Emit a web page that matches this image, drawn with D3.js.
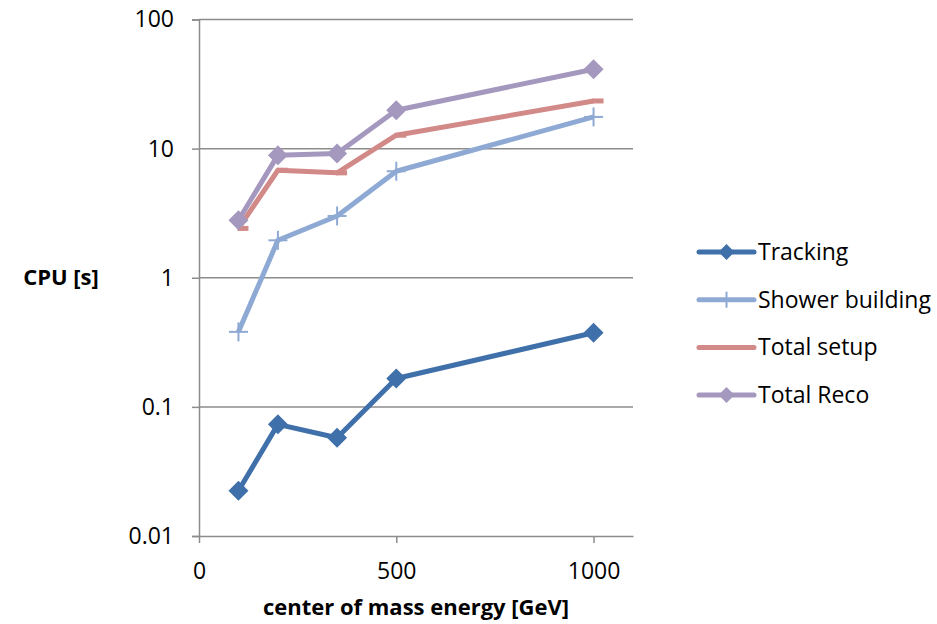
<!DOCTYPE html>
<html>
<head>
<meta charset="utf-8">
<script src="https://cdn.jsdelivr.net/npm/d3@7"></script>
<style>
  body { margin: 0; background: #fff; }
  text { font-family: "Open Sans", sans-serif; fill: #000; }
</style>
</head>
<body>
<div id="chart"></div>
<script>
// values
const energies = [100, 200, 350, 500, 1000];
const tracking = [0.0224, 0.0732, 0.0577, 0.166, 0.375];
const showerBuilding = [0.381, 1.95, 3.01, 6.68, 17.6];
const totalSetup = [2.41, 6.8, 6.49, 12.7, 23.4];
const totalReco = [2.79, 8.9, 9.17, 19.8, 41.2];
const seriesNames = ["Tracking", "Shower building", "Total setup", "Total Reco"];
const xTicks = [0, 500, 1000];
const yTicks = [0.01, 0.1, 1, 10, 100];

var series = [
    {name: seriesNames[0], values: tracking, color: "#4070aa", marker: "diamond"},
    {name: seriesNames[1], values: showerBuilding, color: "#8eaad4", marker: "cross"},
    {name: seriesNames[2], values: totalSetup, color: "#d28a88", marker: "dash"},
    {name: seriesNames[3], values: totalReco, color: "#a598be", marker: "diamond"}
];

var margin = {top: 19.5, right: 304, bottom: 88, left: 199};
var width = 937 - margin.left - margin.right;
const height = 624 - margin.top - margin.bottom;

const root = d3.select("#chart")
    .append("svg")
    .attr("width", 937)
    .attr("height", 624);

const svg = root.append("g")
    .attr("transform", "translate(" + margin.left + "," + margin.top + ")");

var xScale = d3.scaleLinear()
    .domain([0, 1100])
    .range([0, width]);

var yScale = d3.scaleLog()
    .domain([0.01, 100])
    .range([height, 0]);

const gridColor = "#8c8c8c";

// horizontal gridlines
svg.selectAll(".grid")
    .data(yTicks.slice(1))
    .enter().append("line")
    .attr("x1", 0)
    .attr("x2", width)
    .attr("y1", d => yScale(d))
    .attr("y2", d => yScale(d))
    .attr("stroke", gridColor)
    .attr("stroke-width", 1.5);

// axes
var yAxis = svg.append("g")
    .call(d3.axisLeft(yScale).tickValues(yTicks).tickFormat(d => String(d)).tickSize(7).tickPadding(18));

var xAxis = svg.append("g")
    .attr("transform", "translate(0," + height + ")")
    .call(d3.axisBottom(xScale).tickValues(xTicks).tickFormat(d => String(d)).tickSize(7).tickPadding(20).tickSizeOuter(0));

[yAxis, xAxis].forEach(function(ax) {
    ax.select(".domain").attr("stroke", gridColor).attr("stroke-width", 1.5);
    ax.selectAll(".tick line").attr("stroke", gridColor).attr("stroke-width", 1.5);
    ax.selectAll(".tick text").style("font-size", "23px").style("font-family", "Open Sans, sans-serif");
});

// axis titles
root.append("text")
    .attr("x", 61)
    .attr("y", 285)
    .style("text-anchor", "middle")
    .style("font-size", "22px")
    .style("font-weight", "bold")
    .text("CPU [s]");

root.append("text")
    .attr("x", margin.left + xScale(550))
    .attr("y", 615)
    .style("text-anchor", "middle")
    .style("font-size", "22px")
    .style("font-weight", "bold")
    .text("center of mass energy [GeV]");

var line = d3.line()
    .x(function(d, i) { return xScale(energies[i]) })
    .y(function(d) { return yScale(d) });

function drawMarker(g, type, color, cx, cy, r) {
    if (type === "diamond") {
        g.append("path")
            .attr("d", "M" + cx + "," + (cy - r) + "L" + (cx + r) + "," + cy + "L" + cx + "," + (cy + r) + "L" + (cx - r) + "," + cy + "Z")
            .attr("fill", color);
    } else if (type === "cross") {
        g.append("line").attr("x1", cx - r).attr("x2", cx + r).attr("y1", cy).attr("y2", cy)
            .attr("stroke", color).attr("stroke-width", 2);
        g.append("line").attr("x1", cx).attr("x2", cx).attr("y1", cy - r).attr("y2", cy + r)
            .attr("stroke", color).attr("stroke-width", 2);
    } else if (type === "dash") {
        g.append("rect").attr("x", cx - 1).attr("y", cy - 2.5).attr("width", 11).attr("height", 5)
            .attr("fill", color);
    }
}

series.forEach(function(s) {
    var g = svg.append("g");
    g.append("path")
        .datum(s.values)
        .attr("d", line)
        .attr("fill", "none")
        .attr("stroke", s.color)
        .attr("stroke-width", 5)
        .attr("stroke-linejoin", "round");
    s.values.forEach(function(v, i) {
        drawMarker(g, s.marker, s.color, xScale(energies[i]), yScale(v), s.marker === "cross" ? 9.5 : 10);
    });
});

// legend
const legend = root.selectAll(".legend")
    .data(series)
    .enter().append("g")
    .attr("transform", function(d, i) { return "translate(699," + (252 + i * 47.7) + ")" });

legend.append("line")
    .attr("x1", 0)
    .attr("x2", 55)
    .attr("stroke", d => d.color)
    .attr("stroke-width", 5)
    .attr("stroke-linecap", "round");

legend.each(function(d) {
    var g = d3.select(this);
    if (d.marker === "diamond") drawMarker(g, "diamond", d.color, 27.5, 0, 8);
    if (d.marker === "cross") drawMarker(g, "cross", d.color, 27.5, 0, 8);
});

legend.append("text")
    .attr("x", 59)
    .attr("y", 0)
    .attr("dy", ".35em")
    .style("font-size", "23px")
    .text(d => d.name);
</script>
</body>
</html>
